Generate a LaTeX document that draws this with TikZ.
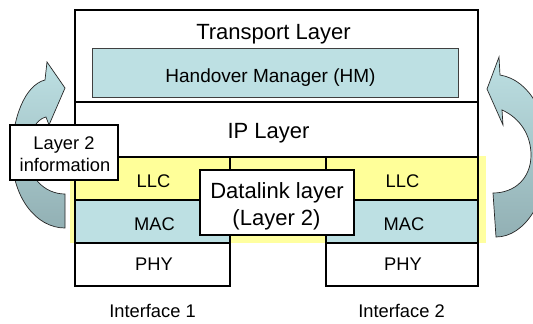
\documentclass[tikz,border=0pt]{standalone}
\usepackage{fontspec}
\setmainfont{Liberation Sans}
\definecolor{lblue}{HTML}{BDE0E3}
\definecolor{lyel}{HTML}{FFFF99}
\definecolor{bgyel}{HTML}{FFFFA0}
\definecolor{adark}{HTML}{92B0B4}
\tikzset{
  layer/.style={draw=black, line width=2.6pt, inner sep=0pt, outer sep=0pt, anchor=north west},
  infobox/.style={draw=black, fill=white, line width=2.3pt, inner sep=0pt, outer sep=0pt, anchor=north west},
  hmbox/.style={draw=black!75, fill=lblue, line width=0.8pt, inner sep=0pt, outer sep=0pt, anchor=north west},
  txt/.style={anchor=base, inner sep=0pt, outer sep=0pt},
  big/.style={font=\fontsize{22}{26}\selectfont},
  mid/.style={font=\fontsize{19}{22}\selectfont},
  small/.style={font=\fontsize{18.3}{21}\selectfont},
  curl/.style={draw=black!85, line width=0.7pt, top color=lblue, bottom color=adark},
}
\begin{document}
\begin{tikzpicture}[x=1pt,y=-1pt]
\useasboundingbox (0,0) rectangle (533,324);
\clip (0,0) rectangle (533,324);
% yellow background of layer 2
\node[anchor=north west, fill=bgyel, inner sep=0pt, minimum width=416pt, minimum height=87pt] (bg) at (70,156) {};
% stacks
\node[layer, minimum width=403pt, minimum height=92pt] (tr) at (75,10) {};
\node[hmbox, minimum width=366pt, minimum height=49pt] (hm) at (92,48) {};
\node[layer, minimum width=403pt, minimum height=55pt] (ip) at (75,102) {};
\node[layer, fill=lyel, minimum width=155pt, minimum height=43pt] (llc1) at (75,157) {};
\node[layer, fill=lblue, minimum width=155pt, minimum height=43pt] (mac1) at (75,200) {};
\node[layer, fill=white, minimum width=155pt, minimum height=43pt] (phy1) at (75,243) {};
\node[layer, fill=lyel, minimum width=152pt, minimum height=43pt] (llc2) at (326,157) {};
\node[layer, fill=lblue, minimum width=152pt, minimum height=43pt] (mac2) at (326,200) {};
\node[layer, fill=white, minimum width=152pt, minimum height=43pt] (phy2) at (326,243) {};
% texts of stacks
\node[txt, big] (trt) at (273.5,39) {Transport Layer};
\node[txt, mid] (hmt) at (270.5,82) {Handover Manager (HM)};
\node[txt, big] (ipt) at (268.5,138) {IP Layer};
\node[txt, small] (llc1t) at (153.5,187) {LLC};
\node[txt, small] (mac1t) at (154.5,230) {MAC};
\node[txt, small] (phy1t) at (154,270) {PHY};
\node[txt, small] (llc2t) at (402.5,187) {LLC};
\node[txt, small] (mac2t) at (404,230) {MAC};
\node[txt, small] (phy2t) at (403,270) {PHY};
\node[txt, small] (if1) at (152.5,317) {Interface 1};
\node[txt, small] (if2) at (401.5,317) {Interface 2};
% datalink box
\node[infobox, minimum width=154pt, minimum height=65pt] (dl) at (200,170) {};
\node[txt, big] (dl1) at (277,198) {Datalink layer};
\node[txt, big] (dl2) at (276.5,225.5) {(Layer 2)};
% curved arrows
\path[curl] (65,228) .. controls (36,228) and (12,197) .. (12,155)
  .. controls (12,118) and (25,85) .. (45,80) -- (47,62) -- (65,88) -- (49,125) -- (46,117)
  .. controls (36,119) and (27,135) .. (27,152)
  .. controls (27,176) and (44,194) .. (65,194) -- cycle;
\path[curl] (496,237) .. controls (525,237) and (548,200) .. (548,155)
  .. controls (548,115) and (530,80) .. (500,75) -- (499,57) -- (487,89) -- (503,125) -- (502,110)
  .. controls (520,118) and (531,135) .. (531,155)
  .. controls (531,178) and (515,193) .. (493,193) -- cycle;
% layer 2 information box
\node[infobox, minimum width=108pt, minimum height=55pt] (l2) at (10,125) {};
\node[txt, small] (l2a) at (64,149.5) {Layer 2};
\node[txt, small] (l2b) at (65,171) {information};
\end{tikzpicture}
\end{document}
